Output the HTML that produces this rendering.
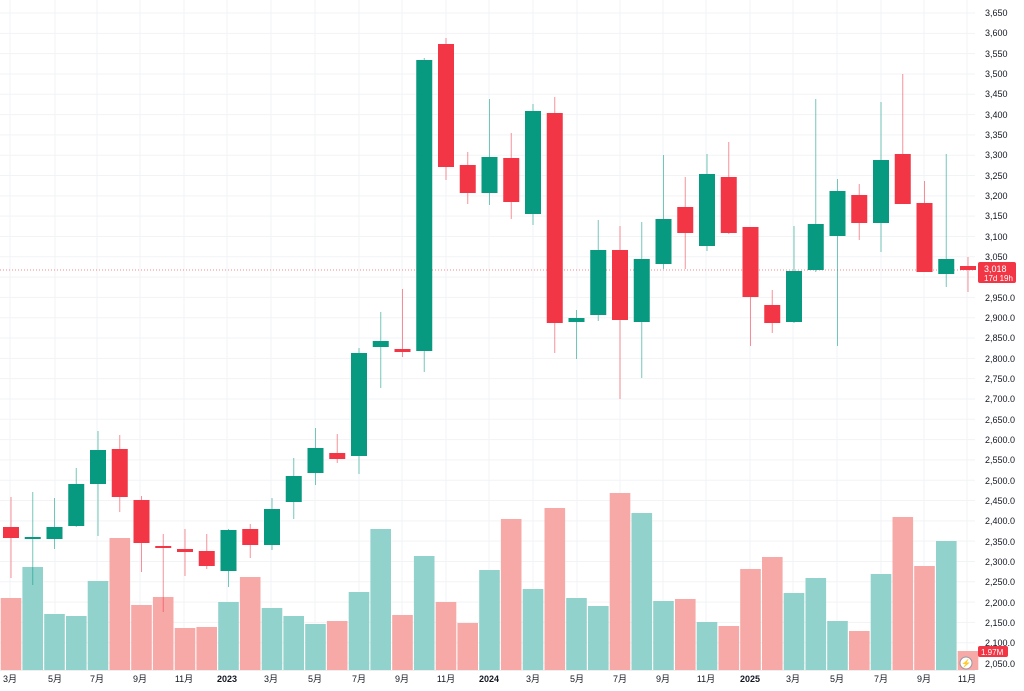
<!DOCTYPE html>
<html><head><meta charset="utf-8"><style>
html,body{margin:0;padding:0;background:#fff;width:1024px;height:691px;overflow:hidden}
svg{display:block;font-family:"Liberation Sans","Noto Sans CJK SC",sans-serif}
.yl{font-size:9px;fill:#131722}
.xl{font-size:9px;fill:#131722;text-anchor:middle}
</style></head><body>
<svg id="c" width="1024" height="691" viewBox="0 0 1024 691">
<g id="grid" stroke="#f2f3f5" stroke-width="1"></g>
<g id="vol"></g>
<line x1="0" y1="270" x2="975" y2="270" stroke="#f23645" stroke-width="1" stroke-dasharray="1,2" opacity="0.6"/>
<g id="cand"></g>
<line x1="0" y1="670.5" x2="975" y2="670.5" stroke="#eee"/>
<g class="yl">
<text x="985" y="16">3,650</text><text x="985" y="36">3,600</text><text x="985" y="57">3,550</text><text x="985" y="77">3,500</text><text x="985" y="97">3,450</text><text x="985" y="118">3,400</text><text x="985" y="138">3,350</text><text x="985" y="158">3,300</text><text x="985" y="179">3,250</text><text x="985" y="199">3,200</text><text x="985" y="219">3,150</text><text x="985" y="240">3,100</text><text x="985" y="260">3,050</text>
<text x="985" y="301">2,950.0</text><text x="985" y="321">2,900.0</text><text x="985" y="341">2,850.0</text><text x="985" y="362">2,800.0</text><text x="985" y="382">2,750.0</text><text x="985" y="402">2,700.0</text><text x="985" y="423">2,650.0</text><text x="985" y="443">2,600.0</text><text x="985" y="463">2,550.0</text><text x="985" y="484">2,500.0</text><text x="985" y="504">2,450.0</text><text x="985" y="524">2,400.0</text><text x="985" y="545">2,350.0</text><text x="985" y="565">2,300.0</text><text x="985" y="585">2,250.0</text><text x="985" y="606">2,200.0</text><text x="985" y="626">2,150.0</text><text x="985" y="646">2,100.0</text><text x="985" y="667">2,050.0</text>
</g>
<rect x="978" y="262" width="38" height="21" rx="2" fill="#f23645"/>
<text x="984" y="272" font-size="9" fill="#fff">3,018</text>
<text x="984" y="281" font-size="8" fill="#fff">17d 19h</text>
<rect x="978" y="646" width="30" height="11" rx="2" fill="#f23645"/>
<text x="981" y="655" font-size="8" fill="#fff">1.97M</text>
<circle cx="966" cy="663" r="6" fill="#fff" stroke="#9598a1"/>
<text x="966" y="666" font-size="8" fill="#7b1fa2" text-anchor="middle">⚡</text>
<g class="xl">
<text x="10" y="682">3月</text><text x="55" y="682">5月</text><text x="97" y="682">7月</text><text x="140" y="682">9月</text><text x="184" y="682">11月</text><text x="227" y="682" font-weight="bold">2023</text><text x="271" y="682">3月</text><text x="315" y="682">5月</text><text x="359" y="682">7月</text><text x="402" y="682">9月</text><text x="446" y="682">11月</text><text x="489" y="682" font-weight="bold">2024</text><text x="533" y="682">3月</text><text x="577" y="682">5月</text><text x="620" y="682">7月</text><text x="663" y="682">9月</text><text x="706" y="682">11月</text><text x="750" y="682" font-weight="bold">2025</text><text x="793" y="682">3月</text><text x="837" y="682">5月</text><text x="881" y="682">7月</text><text x="924" y="682">9月</text><text x="967" y="682">11月</text>
</g>
</svg>
<script>
var NS="http://www.w3.org/2000/svg";
function el(p,t,a){var e=document.createElementNS(NS,t);for(var k in a)e.setAttribute(k,a[k]);p.appendChild(e);return e;}
var g=document.getElementById('grid');
for(var k=0;k<33;k++){var y=13+k*20.3125;el(g,'line',{x1:0,x2:975,y1:y,y2:y});}
[10,55,97,140,184,227,271,315,359,402,446,489,533,577,620,663,706,750,793,837,881,924,967].forEach(function(x){el(g,'line',{x1:x,x2:x,y1:0,y2:670});});
var vol=[[598,0],[567,1],[614,1],[616,1],[581,1],[538,0],[605,0],[597,0],[628,0],[627,0],[602,1],[577,0],[608,1],[616,1],[624,1],[621,0],[592,1],[529,1],[615,0],[556,1],[602,0],[623,0],[570,1],[519,0],[589,1],[508,0],[598,1],[606,1],[493,0],[513,1],[601,1],[599,0],[622,1],[626,0],[569,0],[557,0],[593,1],[578,1],[621,1],[631,0],[574,1],[517,0],[566,0],[541,1],[651,0]];
var C=[[527,538,497,578,0],[537,539,492,585,1],[527,539,498,549,1],[484,526,468,527,1],[450,484,431,536,1],[449,497,435,512,0],[500,543,496,572,0],[546,547,534,612,0],[549,552,529,576,0],[551,566,534,569,0],[530,571,529,587,1],[529,545,524,558,0],[509,545,498,550,1],[476,502,458,519,1],[448,473,428,485,1],[453,459,434,463,0],[353,456,348,474,1],[341,347,312,388,1],[349,352,289,357,0],[60,351,58,372,1],[44,167,38,180,0],[165,193,152,204,0],[157,193,99,205,1],[158,202,133,219,0],[111,214,104,225,1],[113,323,97,353,0],[318,322,310,359,1],[250,315,220,321,1],[250,320,226,399,0],[259,322,222,378,1],[219,264,155,269,1],[207,233,177,269,0],[174,246,154,251,1],[177,233,142,234,0],[227,297,227,346,0],[305,323,290,333,0],[271,322,226,323,1],[224,270,99,272,1],[191,236,179,346,1],[195,223,184,240,0],[160,223,102,252,1],[154,204,74,204,0],[203,272,181,272,0],[259,274,154,287,1],[266,270,257,292,0]];
var vg=document.getElementById('vol'),cg=document.getElementById('cand');
for(var i=0;i<45;i++){
 var cx=11+21.75*i;
 var v=vol[i];
 el(vg,'rect',{x:(cx-10.3).toFixed(1),y:v[0],width:20.6,height:670-v[0],fill:v[1]?'#92d2cc':'#f7a9a7'});
 var c=C[i],col=c[4]?'#089981':'#f23645';
 el(cg,'line',{x1:cx,x2:cx,y1:c[2],y2:c[3],stroke:col,'stroke-width':1,opacity:0.55});
 el(cg,'rect',{x:cx-8,y:c[0],width:16,height:Math.max(2,c[1]-c[0]),fill:col});
}
</script>
</body></html>
